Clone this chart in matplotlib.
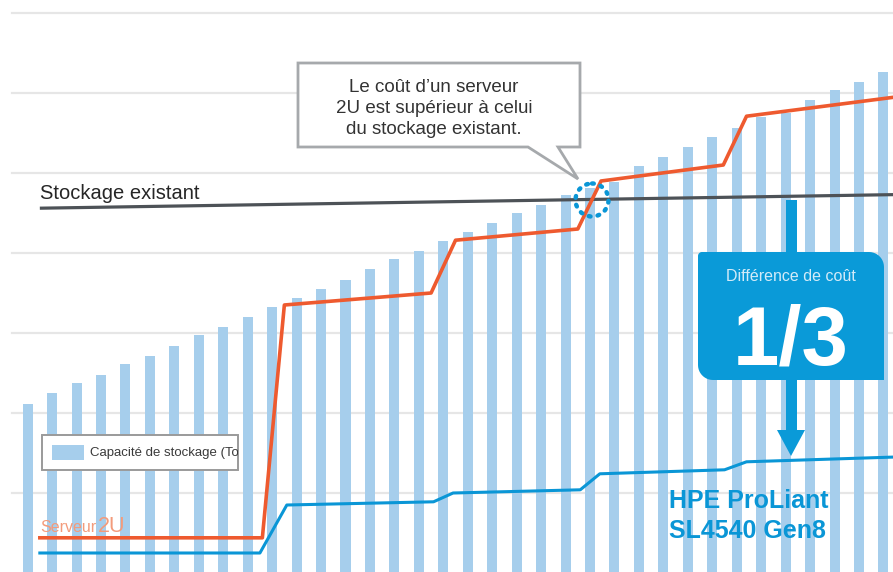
import matplotlib
matplotlib.use('Agg')
import matplotlib.pyplot as plt
import numpy as np
from matplotlib.patches import Rectangle, Polygon, Circle

# ---------------- data ----------------
bar_index = list(range(36))
capacite = [2.11, 2.25, 2.38, 2.48, 2.61, 2.71, 2.84, 2.98, 3.08, 3.20,
            3.33, 3.44, 3.55, 3.66, 3.80, 3.93, 4.03, 4.15, 4.26, 4.38,
            4.50, 4.60, 4.73, 4.81, 4.89, 5.09, 5.20, 5.33, 5.45, 5.56,
            5.70, 5.75, 5.91, 6.04, 6.14, 6.26]
serveur_x = [0.5, 9.6, 10.5, 16.5, 17.5, 22.5, 23.45, 28.45, 29.4, 35.5]
serveur_y = [0.44, 0.44, 3.35, 3.50, 4.16, 4.30, 4.90, 5.10, 5.71, 5.95]
hpe_x = [0.5, 9.5, 10.6, 16.6, 17.4, 22.6, 23.4, 28.5, 29.4, 35.5]
hpe_y = [0.25, 0.25, 0.85, 0.89, 1.00, 1.04, 1.24, 1.29, 1.39, 1.45]
existant_x = [0.5, 35.5]
existant_y = [4.56, 4.73]
grid_values = [1, 2, 3, 4, 5, 6, 7]

legend_label = "Capacité de stockage (To)"
existant_label = "Stockage existant"
callout_lines = ["Le coût d\u2019un serveur", "2U est supérieur à celui", "du stockage existant."]
diff_label = "Différence de coût"
diff_value = "1/3"
hpe_label = ["HPE ProLiant", "SL4540 Gen8"]

# ---------------- style ----------------
BAR = '#a6ceec'
ORANGE = '#ee5a2f'
BLUE = '#0a96d6'
GREY = '#4d5257'
GRID = '#e6e6e6'
FONT = 'Liberation Sans'
plt.rcParams['font.family'] = [FONT, 'DejaVu Sans']

W, H = 893, 572
fig = plt.figure(figsize=(W / 100, H / 100), dpi=100)
ax = fig.add_axes([0, 0, 1, 1])
ax.set_xlim(-1.129, 35.39)
ax.set_ylim(0.0125, 7.1625)
ax.axis('off')

for g in grid_values:
    ax.axhline(g, xmin=12 / W, xmax=1, color=GRID, lw=1.6, zorder=1)

ax.bar(bar_index, capacite, width=0.41, bottom=0, color=BAR, zorder=2)
ax.plot(existant_x, existant_y, color=GREY, lw=2.3, zorder=3, solid_capstyle='butt')
ax.plot(hpe_x, hpe_y, color=BLUE, lw=2.2, zorder=4, solid_joinstyle='round')
ax.plot(serveur_x, serveur_y, color=ORANGE, lw=2.6, zorder=5, solid_joinstyle='round')

# ---------------- annotation layer (pixel coords) ----------------
ov = fig.add_axes([0, 0, 1, 1])
ov.set_xlim(0, W)
ov.set_ylim(H, 0)
ov.axis('off')
ov.patch.set_alpha(0)

# callout bubble
bubble = Polygon([(298, 63), (580, 63), (580, 147), (558, 147), (578, 179),
                  (528, 147), (298, 147)], closed=True, facecolor='white',
                 edgecolor='#a6a9ac', lw=2.0, joinstyle='miter', zorder=5)
ov.add_patch(bubble)
for line, yb in zip(callout_lines, [92, 113, 134]):
    ov.text(434, yb, line, ha='center', va='baseline', fontsize=13.5,
            color='#333333', zorder=6)

# dotted circle at the crossing
ov.add_patch(Circle((592, 200), 16.5, fill=False, edgecolor=BLUE, lw=3.2,
                    linestyle=(0, (0.4, 1.6)), capstyle='round', zorder=7))

# "Stockage existant"
ov.text(40, 199, existant_label, ha='left', va='baseline', fontsize=14.5,
        color='#262626', zorder=6)

# legend box
leg = Rectangle((42, 435), 196, 35, facecolor='white', edgecolor='#9a9a9a',
                lw=1.4, zorder=5)
ov.add_patch(leg)
ov.add_patch(Rectangle((52, 445), 32, 15, facecolor=BAR, edgecolor='none', zorder=6))
t = ov.text(90, 453, legend_label, ha='left', va='center', fontsize=9.5,
            color='#3a3a3a', zorder=6)
t.set_clip_path(leg)
t.set_clip_on(True)

# Serveur 2U label
ov.text(40, 532, "Serveur", ha='left', va='baseline', fontsize=11.5,
        color='#f39b7b', zorder=6)
ov.text(98, 532, "2U", ha='left', va='baseline', fontsize=15.5,
        color='#f39b7b', zorder=6)

# HPE label
ov.text(669, 508, hpe_label[0], ha='left', va='baseline', fontsize=18,
        fontweight='bold', color=BLUE, zorder=6)
ov.text(669, 538, hpe_label[1], ha='left', va='baseline', fontsize=18,
        fontweight='bold', color=BLUE, zorder=6)


# blue box with mixed rounded corners
def rounded_box(x0, y0, x1, y1, r_tl, r_tr, r_br, r_bl, n=12):
    pts = []

    def arc(cx, cy, r, a0, a1):
        for a in np.linspace(np.radians(a0), np.radians(a1), n):
            pts.append((cx + r * np.cos(a), cy + r * np.sin(a)))
    arc(x0 + r_tl, y0 + r_tl, r_tl, 180, 270)
    arc(x1 - r_tr, y0 + r_tr, r_tr, 270, 360)
    arc(x1 - r_br, y1 - r_br, r_br, 0, 90)
    arc(x0 + r_bl, y1 - r_bl, r_bl, 90, 180)
    return pts


BOX = '#0a9ad8'
# arrow shaft & head
ov.add_patch(Rectangle((786, 200), 11, 54, facecolor=BOX, edgecolor='none', zorder=6))
ov.add_patch(Rectangle((786, 378), 11, 54, facecolor=BOX, edgecolor='none', zorder=6))
ov.add_patch(Polygon([(777, 430), (805, 430), (791, 456)], closed=True,
                     facecolor=BOX, edgecolor='none', zorder=6))
ov.add_patch(Polygon(rounded_box(698, 252, 884, 380, 4, 15, 0.01, 15),
                     closed=True, facecolor=BOX, edgecolor='none', zorder=7))
ov.text(791, 281, diff_label, ha='center', va='baseline', fontsize=11.5,
        color='#d3ebf8', zorder=8)
ov.text(791, 365, diff_value, ha='center', va='baseline', fontsize=60,
        fontweight='bold', color='white', zorder=8)

fig.savefig('out.png', dpi=100)
